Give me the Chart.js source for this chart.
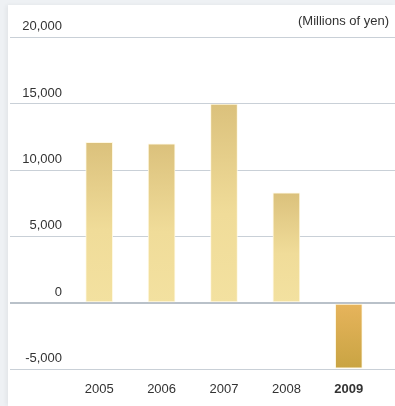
<!DOCTYPE html>
<html>
<head>
<meta charset="utf-8">
<script src="https://cdn.jsdelivr.net/npm/chart.js@4"></script>
<style>
  html, body { margin: 0; padding: 0; }
  body { width: 395px; height: 406px; background: #eef1f4; position: relative; overflow: hidden; }
  #panel { position: absolute; left: 8px; top: 5px; right: 0; bottom: 0; background: #ffffff;
           box-shadow: -2px 0 4px rgba(0,0,0,0.05); }
  #c { position: absolute; left: 0; top: 0; }
</style>
</head>
<body>
<div id="panel"></div>
<canvas id="c" width="395" height="406"></canvas>
<script>
const years = ['2005', '2006', '2007', '2008', '2009'];
const values = [12100, 12000, 15000, 8300, -4900];
const yMin = -5000;
const yMax = 20000;
const yStep = 5000;
const unitLabel = '(Millions of yen)';

const FONT = "'Liberation Sans', Arial, Helvetica, sans-serif";

function barFill(c) {
  const ch = c.chart;
  const ys = ch.scales && ch.scales.y;
  if (!ys || c.type !== 'data' || !c.parsed) return '#e8d28c';
  const v = c.parsed.y;
  const pv = ys.getPixelForValue(v);
  const p0 = ys.getPixelForValue(0);
  if (!isFinite(pv) || !isFinite(p0)) return '#e8d28c';
  if (v >= 0) {
    const g = ch.ctx.createLinearGradient(0, pv, 0, p0);
    g.addColorStop(0, '#dbc17c');
    g.addColorStop(0.55, '#f0dc99');
    g.addColorStop(1, '#f3e1a0');
    return g;
  } else {
    const g = ch.ctx.createLinearGradient(0, p0, 0, pv);
    g.addColorStop(0, '#e7b45c');
    g.addColorStop(1, '#c9a443');
    return g;
  }
}

function gridColor(c) { return (c.tick && c.tick.value === 0) ? '#b9c1c9' : '#c9d0d7'; }
function gridWidth(c) { return (c.tick && c.tick.value === 0) ? 2 : 1; }

new Chart(document.getElementById('c'), {
  type: 'bar',
  data: {
    labels: years,
    datasets: [{
      data: values,
      backgroundColor: barFill,
      borderColor: 'rgba(255,248,225,0.9)',
      borderWidth: 1,
      borderSkipped: false,
      barThickness: 27,
      yAxisID: 'y'
    }]
  },
  options: {
    responsive: false,
    animation: false,
    layout: { padding: { left: 10, right: 6, top: 0, bottom: -3 } },
    plugins: {
      legend: { display: false },
      tooltip: { enabled: false },
      title: {
        display: true,
        text: unitLabel,
        align: 'end',
        color: '#333333',
        font: { family: FONT, size: 13, weight: 'normal' },
        padding: { top: 14, bottom: 8 }
      }
    },
    scales: {
      x: {
        offset: true,
        grid: { display: false, drawTicks: false },
        border: { display: false },
        ticks: {
          padding: 12,
          color: '#333333',
          font: (c) => ({ family: FONT, size: 13, weight: c.index === 4 ? 'bold' : 'normal' })
        }
      },
      y: {
        position: 'left',
        min: yMin,
        max: yMax,
        afterFit: (s) => { s.width = 58; s.paddingTop = 0; s.paddingBottom = 0; },
        grid: { color: gridColor, lineWidth: gridWidth, tickLength: 58, tickColor: gridColor, tickWidth: gridWidth },
        border: { display: false },
        ticks: {
          stepSize: yStep,
          padding: -52,
          labelOffset: -11,
          color: '#333333',
          font: { family: FONT, size: 13 },
          callback: (v) => v.toLocaleString('en-US')
        }
      },
      y2: {
        position: 'right',
        min: yMin,
        max: yMax,
        afterFit: (s) => { s.width = 9; },
        grid: { drawOnChartArea: false, color: gridColor, lineWidth: gridWidth, tickLength: 15, tickColor: gridColor, tickWidth: gridWidth },
        border: { display: false },
        ticks: { stepSize: yStep, display: false }
      }
    }
  }
});
</script>
</body>
</html>
